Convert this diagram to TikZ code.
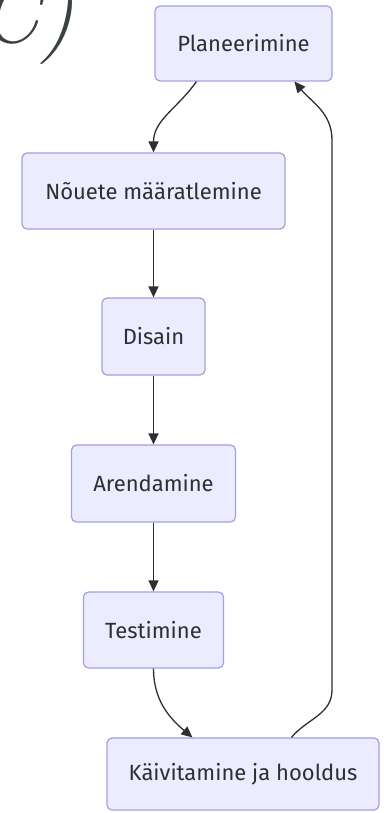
\documentclass[tikz,border=0pt]{standalone}
\usepackage{fontspec}
\setmainfont{Fira Sans}
\usetikzlibrary{arrows.meta}
\definecolor{boxfill}{HTML}{ECECFF}
\definecolor{boxline}{HTML}{A99BE0}
\definecolor{inkgray}{HTML}{2E2E33}
\definecolor{glyphgray}{HTML}{3B4245}
\tikzset{
	phase/.style={draw=boxline, fill=boxfill, line width=1.2pt, rounded corners=5pt, text=inkgray, font=\fontsize{22}{25}\selectfont, inner sep=0pt},
	flow/.style={draw=inkgray, line width=1.3pt, -{Triangle[length=11pt,width=10pt]}}
}
\begin{document}
\begin{tikzpicture}[x=1pt,y=1pt]
	\useasboundingbox (0,0) rectangle (383,-813);
	% Rest eines Zeichens oben links
	\begin{scope}
		\clip (0,0) rectangle (383,-813);
		\node [anchor=base west, inner sep=0pt, text=glyphgray, font=\fontfamily{lmr}\fontsize{88}{90}\selectfont\itshape] (glyph) at (-22,-43) {C)};
	\end{scope}
	% Phasen
	\node [phase, minimum width=177pt, minimum height=75pt] (plan) at (243.5,-43.5) {Planeerimine};
	\node [phase, minimum width=263pt, minimum height=76pt] (req) at (153.5,-191) {Nõuete määratlemine};
	\node [phase, minimum width=103pt, minimum height=77pt] (design) at (153.5,-336.5) {Disain};
	\node [phase, minimum width=164pt, minimum height=77pt] (dev) at (153.5,-483.5) {Arendamine};
	\node [phase, minimum width=140pt, minimum height=76pt] (test) at (153.5,-630) {Testimine};
	\node [phase, minimum width=272pt, minimum height=72pt] (deploy) at (243,-774) {Käivitamine ja hooldus};
	% Pfeile
	\draw [flow] ([xshift=42pt]plan.south west) to [out=-125,in=90] (req.north);
	\draw [flow] (req) -- (design);
	\draw [flow] (design) -- (dev);
	\draw [flow] (dev) -- (test);
	\draw [flow] (test.south) to [out=-90,in=140] ([xshift=86pt]deploy.north west);
	% Rueckweg
	\coordinate (railbottom) at (332,-690);
	\coordinate (railtop) at (332,-140);
	\draw [flow] ([xshift=185pt]deploy.north west) to [out=50,in=-90] (railbottom) -- (railtop) to [out=90,in=-50] ([xshift=140pt]plan.south west);
\end{tikzpicture}
\end{document}
